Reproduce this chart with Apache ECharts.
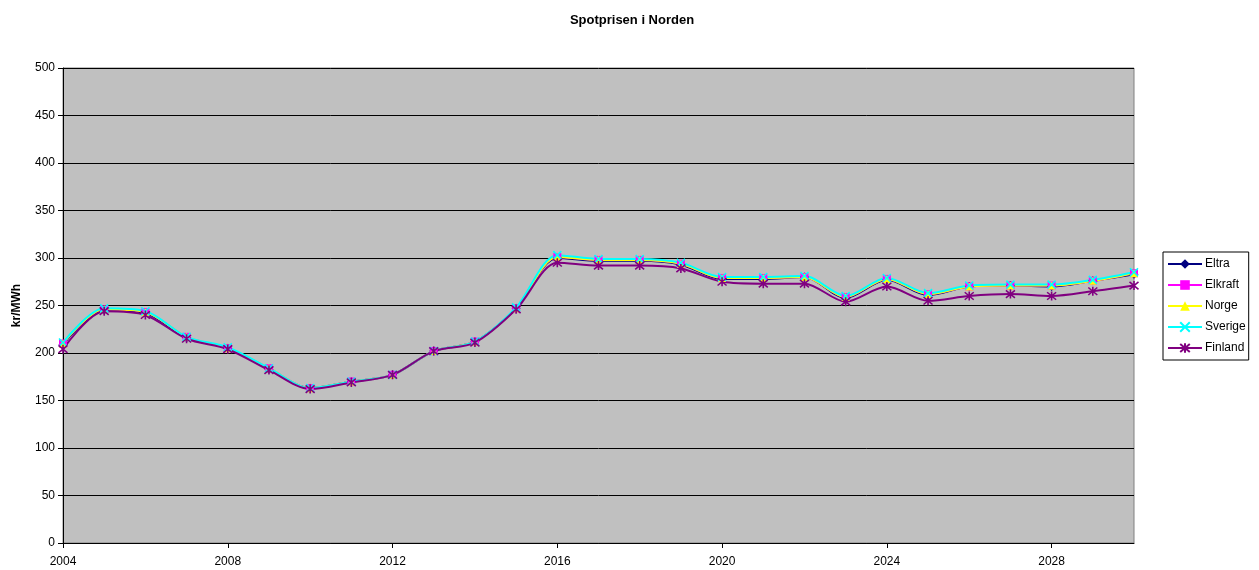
<!DOCTYPE html>
<html>
<head>
<meta charset="utf-8">
<script src="https://cdn.jsdelivr.net/npm/echarts@6/dist/echarts.min.js"></script>
<style>
  html, body { margin: 0; padding: 0; background: #ffffff; }
  #chart { width: 1259px; height: 570px; }
</style>
</head>
<body>
<div id="chart"></div>
<script>
// Years on the horizontal axis
const years = [2004, 2005, 2006, 2007, 2008, 2009, 2010, 2011, 2012, 2013, 2014, 2015, 2016,
               2017, 2018, 2019, 2020, 2021, 2022, 2023, 2024, 2025, 2026, 2027, 2028, 2029, 2030];

// Spot prices, kr/MWh
const eltra   = [209, 245, 242, 216, 205, 183, 163, 170, 177, 202, 212, 247, 300,
                 297, 297, 293, 278, 278, 280, 258, 277, 261, 270, 271, 270, 276, 283];
const elkraft = [210, 246, 243, 217, 205, 184, 163, 170, 177, 202, 212, 247, 301,
                 298, 298, 294, 279, 279, 280, 259, 278, 262, 270, 271, 271, 276, 284];
const norge   = [210, 246, 243, 217, 205, 184, 163, 170, 177, 202, 212, 247, 301,
                 298, 298, 294, 279, 279, 280, 259, 278, 262, 270, 271, 271, 276, 284];
const sverige = [211, 247, 244, 217, 206, 184, 163, 170, 177, 202, 212, 248, 303,
                 299, 299, 295, 280, 280, 281, 260, 279, 263, 271, 272, 272, 277, 285];
const finland = [204, 244, 240, 215, 204, 182, 162, 169, 177, 202, 211, 246, 295,
                 292, 292, 289, 275, 273, 273, 254, 270, 255, 260, 262, 260, 265, 271];

// Axis ticks
const yTicks = { min: 0, max: 500, interval: 50 };
const xTicks = { min: 2004, max: 2030, interval: 4 };
const xTickLabels = [2004, 2008, 2012, 2016, 2020, 2024, 2028];

const pairs = vals => years.map((y, i) => [y, vals[i]]);

const crossPath = 'path://M0,0L10,10M10,0L0,10';
const starPath = 'path://M0,0L10,10M10,0L0,10M5,-1L5,11';

function line(name, vals, color, symbol, size, stroke) {
  return {
    name: name,
    type: 'line',
    data: pairs(vals),
    smooth: 0.3,
    symbol: symbol,
    symbolSize: size,
    showAllSymbol: true,
    lineStyle: { color: color, width: 2 },
    itemStyle: stroke
      ? { color: color, borderColor: color, borderWidth: 1.6 }
      : { color: color, borderWidth: 0 },
    emphasis: { disabled: true },
    animation: false
  };
}

const chart = echarts.init(document.getElementById('chart'), null, { renderer: 'canvas' });
chart.setOption({
  animation: false,
  backgroundColor: '#ffffff',
  textStyle: { fontFamily: 'Liberation Sans, Arial, sans-serif' },
  title: {
    text: 'Spotprisen i Norden',
    left: 627,
    top: 9,
    textAlign: 'center',
    textStyle: { fontSize: 13, fontWeight: 'bold', color: '#000', fontFamily: 'Liberation Sans, Arial, sans-serif' }
  },
  grid: {
    left: 63, right: 125, top: 68, bottom: 27,
    show: true,
    backgroundColor: '#c0c0c0',
    borderColor: '#808080',
    borderWidth: 1
  },
  legend: {
    orient: 'vertical',
    left: 1163,
    top: 252,
    padding: [6, 3, 6, 4],
    itemWidth: 34,
    itemHeight: 12,
    itemGap: 9,
    backgroundColor: '#ffffff',
    borderColor: '#000000',
    borderWidth: 1,
    borderRadius: 0,
    textStyle: { fontSize: 12, color: '#000', fontFamily: 'Liberation Sans, Arial, sans-serif', padding: [0, 0, 0, -2] },
    data: ['Eltra', 'Elkraft', 'Norge', 'Sverige', 'Finland']
  },
  xAxis: {
    type: 'value',
    min: xTicks.min,
    max: xTicks.max,
    interval: xTicks.interval,
    axisLine: { show: true, lineStyle: { color: '#000', width: 1 } },
    axisTick: { show: true, inside: false, length: 5, customValues: xTickLabels, lineStyle: { color: '#000' } },
    axisLabel: {
      fontSize: 12, color: '#000', margin: 13,
      customValues: xTickLabels,
      formatter: v => String(v)
    },
    splitLine: { show: false }
  },
  yAxis: {
    type: 'value',
    min: yTicks.min,
    max: yTicks.max,
    interval: yTicks.interval,
    name: 'kr/MWh',
    nameLocation: 'middle',
    nameGap: 40,
    nameTextStyle: { fontSize: 12, fontWeight: 'bold', color: '#000' },
    axisLine: { show: true, lineStyle: { color: '#000', width: 1 } },
    axisTick: { show: true, inside: false, length: 5, lineStyle: { color: '#000' } },
    axisLabel: { fontSize: 12, color: '#000', margin: 8 },
    splitLine: { show: true, lineStyle: { color: '#000', width: 1 } }
  },
  series: [
    line('Eltra', eltra, '#000080', 'diamond', 9, false),
    line('Elkraft', elkraft, '#ff00ff', 'rect', 8, false),
    line('Norge', norge, '#ffff00', 'triangle', 8, false),
    line('Sverige', sverige, '#00ffff', crossPath, 8, true),
    line('Finland', finland, '#800080', starPath, 9, true)
  ]
});
</script>
</body>
</html>
